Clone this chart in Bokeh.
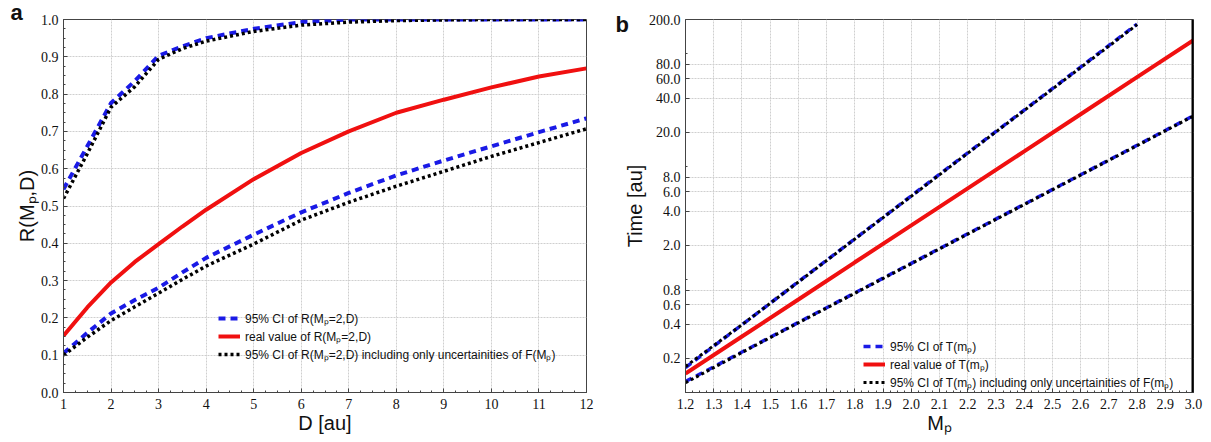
from bokeh.plotting import figure
from bokeh.layouts import row
from bokeh.models import (Range1d, SingleIntervalTicker, FixedTicker, NumeralTickFormatter,
                          Legend, LegendItem, Label, Span)
from bokeh.embed import file_html
from bokeh.resources import INLINE

FONT = "Liberation Sans Narrow"
LEG_FONT = "Liberation Sans"
BOLD_FONT = "Liberation Sans"

# ---------------- data: panel a ----------------
D = [1, 1.5, 2, 2.5, 3, 3.5, 4, 5, 6, 7, 8, 9, 10, 11, 12]
r_real = [0.152, 0.228, 0.295, 0.350, 0.398, 0.445, 0.490, 0.572, 0.642, 0.700, 0.750, 0.785, 0.818, 0.847, 0.869]
r_up_ci = [0.545, 0.660, 0.776, 0.835, 0.903, 0.928, 0.950, 0.975, 0.993, 1.0, 1.0, 1.0, 1.0, 1.0, 1.0]
r_up_ci_f = [0.520, 0.640, 0.765, 0.820, 0.893, 0.922, 0.942, 0.968, 0.985, 0.993, 0.997, 0.999, 1.0, 1.0, 1.0]
r_lo_ci = [0.105, 0.160, 0.212, 0.248, 0.281, 0.322, 0.361, 0.423, 0.483, 0.535, 0.582, 0.622, 0.660, 0.698, 0.735]
r_lo_ci_f = [0.100, 0.148, 0.193, 0.230, 0.266, 0.303, 0.339, 0.398, 0.462, 0.510, 0.553, 0.593, 0.633, 0.670, 0.707]
a_labels = ["95% CI of R(Mₚ=2,D)", "real value of R(Mₚ=2,D)",
            "95% CI of R(Mₚ=2,D) including only uncertainities of F(Mₚ)"]

# ---------------- data: panel b ----------------
Mp = [1.2, 1.4, 1.6, 1.8, 2.0, 2.2, 2.4, 2.6, 2.8, 3.0]
t_real = [0.147, 0.313, 0.665, 1.42, 3.01, 6.41, 13.6, 29.0, 61.8, 131.5]
Mp_up = [1.2, 1.4, 1.6, 1.8, 2.0, 2.2, 2.4, 2.6, 2.8]
t_up_ci = [0.166, 0.398, 0.955, 2.29, 5.50, 13.2, 31.6, 75.9, 182.0]
t_up_ci_f = [0.170, 0.398, 0.950, 2.28, 5.45, 13.1, 31.3, 75.0, 180.0]
t_lo_ci = [0.125, 0.228, 0.417, 0.760, 1.39, 2.54, 4.63, 8.45, 15.4, 28.2]
t_lo_ci_f = [0.122, 0.226, 0.414, 0.755, 1.38, 2.52, 4.60, 8.40, 15.3, 28.0]
b_y_ticks = [0.2, 0.4, 0.6, 0.8, 2.0, 4.0, 6.0, 8.0, 20.0, 40.0, 60.0, 80.0, 200.0]
b_labels = ["95% CI of T(mₚ)", "real value of T(mₚ)",
            "95% CI of T(mₚ) including only uncertainities of F(mₚ)"]

BLUE = "#1a1ae6"
RED = "#f01010"
BLACK = "#000000"


def style_axes(p):
    p.outline_line_color = "#444444"
    p.outline_line_width = 1
    for ax in p.xaxis + p.yaxis:
        ax.major_label_text_font = FONT
        ax.major_label_text_font_size = "14px"
        ax.major_label_text_color = "#111111"
        ax.axis_label_text_font = LEG_FONT
        ax.axis_label_text_font_size = "20px"
        ax.axis_label_text_font_style = "normal"
        ax.axis_label_text_color = "#111111"
        ax.axis_line_color = "#444444"
        ax.major_tick_in = 4
        ax.major_tick_out = 0
        ax.minor_tick_in = 2
        ax.minor_tick_out = 0
        ax.major_tick_line_color = "#444444"
        ax.minor_tick_line_color = "#444444"
    p.xaxis.major_label_standoff = 6
    p.xaxis.axis_label_standoff = 0
    p.yaxis.major_label_standoff = 5
    p.yaxis.axis_label_standoff = 0
    p.xgrid.grid_line_color = "#cfcfcf"
    p.ygrid.grid_line_color = "#cfcfcf"
    p.xgrid.grid_line_dash = "2 1"
    p.ygrid.grid_line_dash = "2 1"


def style_legend(lg):
    lg.background_fill_alpha = 0
    lg.border_line_alpha = 0
    lg.label_text_font = LEG_FONT
    lg.label_text_font_size = "12px"
    lg.label_text_color = "#111111"
    lg.glyph_width = 22
    lg.glyph_height = 18
    lg.label_height = 18
    lg.label_standoff = 5
    lg.spacing = 0
    lg.padding = 0
    lg.margin = 0


# ---------------- panel a ----------------
pa = figure(width=605, height=442, output_backend="svg", toolbar_location=None,
            x_range=Range1d(1, 12), y_range=Range1d(0, 1),
            min_border_left=63, min_border_right=19, min_border_top=19, min_border_bottom=46,
            x_axis_label="D [au]", y_axis_label="R(Mₚ,D)")
pa.xaxis.ticker = SingleIntervalTicker(interval=1, num_minor_ticks=4)
pa.yaxis.ticker = SingleIntervalTicker(interval=0.1, num_minor_ticks=4)
pa.yaxis.formatter = NumeralTickFormatter(format="0.0")
style_axes(pa)

ra1 = pa.line(D, r_up_ci, line_color=BLUE, line_width=4, line_dash="7 5")
pa.line(D, r_lo_ci, line_color=BLUE, line_width=4, line_dash="7 5")
ra2 = pa.line(D, r_real, line_color=RED, line_width=4)
ra3 = pa.line(D, r_up_ci_f, line_color=BLACK, line_width=3.5, line_dash="3 3")
pa.line(D, r_lo_ci_f, line_color=BLACK, line_width=3.5, line_dash="3 3")

lga = Legend(items=[LegendItem(label=a_labels[0], renderers=[ra1]),
                    LegendItem(label=a_labels[1], renderers=[ra2]),
                    LegendItem(label=a_labels[2], renderers=[ra3])],
             location=(155, 29))
style_legend(lga)
pa.add_layout(lga)
pa.add_layout(Label(x=10, y=368, x_units="screen", y_units="screen", text="a",
                    text_font=BOLD_FONT, text_font_style="bold", text_font_size="22px",
                    text_color="#111111", text_baseline="bottom"), "left")

# ---------------- panel b ----------------
pb = figure(width=606, height=442, output_backend="svg", toolbar_location=None,
            x_range=Range1d(1.2, 3.0), y_range=Range1d(0.1, 200), y_axis_type="log",
            min_border_left=80, min_border_right=18, min_border_top=19, min_border_bottom=50,
            x_axis_label="Mₚ", y_axis_label="Time [au]")
pb.xaxis.ticker = SingleIntervalTicker(interval=0.1, num_minor_ticks=4)
pb.xaxis.formatter = NumeralTickFormatter(format="0.0")
pb.yaxis.ticker = FixedTicker(ticks=b_y_ticks, minor_ticks=[1.0, 10.0, 100.0])
pb.yaxis.formatter = NumeralTickFormatter(format="0.0")
style_axes(pb)

rb1 = pb.line(Mp_up, t_up_ci, line_color=BLUE, line_width=3.5, line_dash="7 5")
pb.line(Mp, t_lo_ci, line_color=BLUE, line_width=3.5, line_dash="7 5")
rb2 = pb.line(Mp, t_real, line_color=RED, line_width=4)
rb3 = pb.line(Mp_up, t_up_ci_f, line_color=BLACK, line_width=3, line_dash="3 3")
pb.line(Mp, t_lo_ci_f, line_color=BLACK, line_width=3, line_dash="3 3")
pb.add_layout(Span(location=3.0, dimension="height", line_color="black", line_width=4))

lgb = Legend(items=[LegendItem(label=b_labels[0], renderers=[rb1]),
                    LegendItem(label=b_labels[1], renderers=[rb2]),
                    LegendItem(label=b_labels[2], renderers=[rb3])],
             location=(178, 1))
style_legend(lgb)
pb.add_layout(lgb)
pb.add_layout(Label(x=8, y=356, x_units="screen", y_units="screen", text="b",
                    text_font=BOLD_FONT, text_font_style="bold", text_font_size="22px",
                    text_color="#111111", text_baseline="bottom"), "left")

layout = row(pa, pb, spacing=0)
open("out.html", "w").write(file_html(layout, INLINE))
